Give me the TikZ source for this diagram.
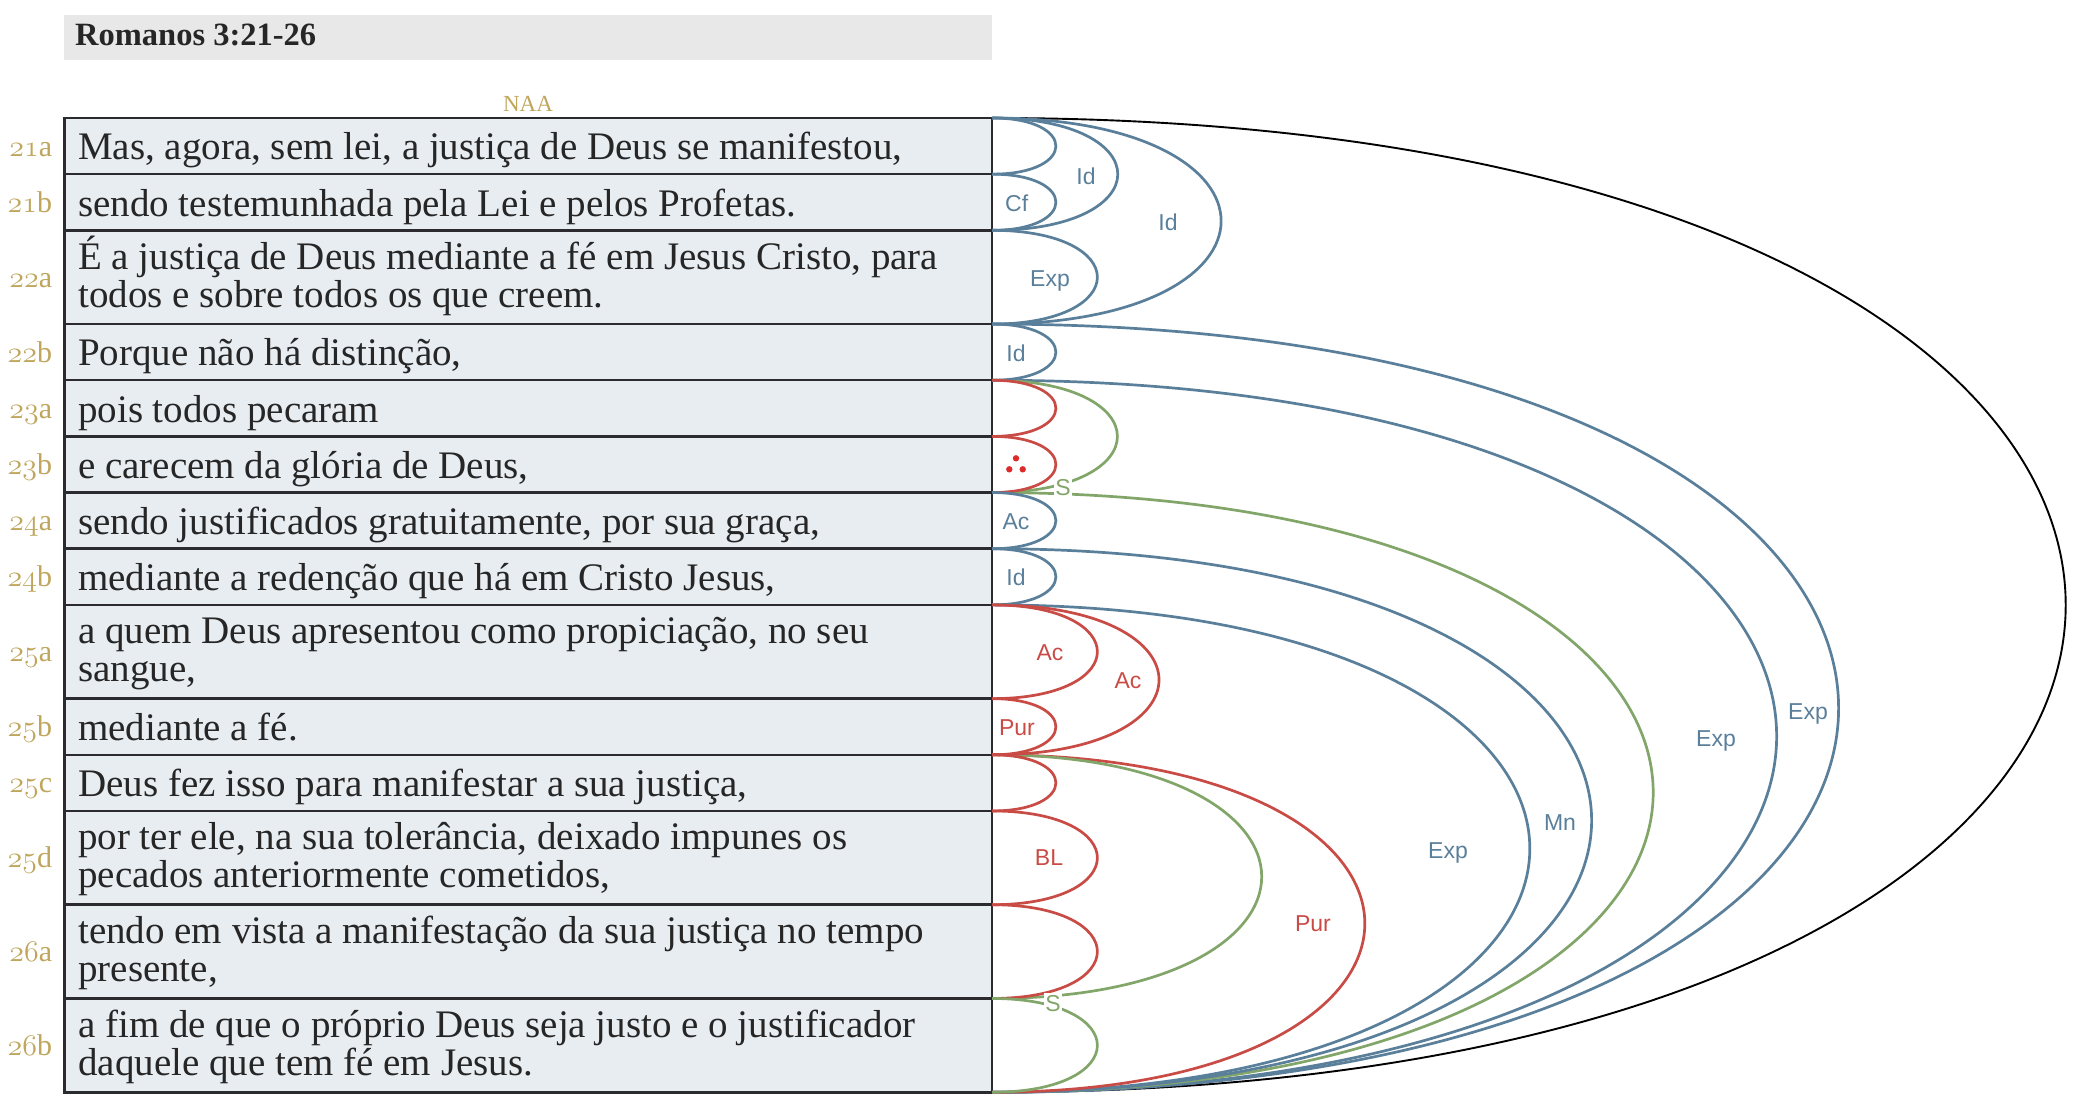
\RequirePackage{fix-cm}
\documentclass[tikz,border=0pt]{standalone}
\usepackage{fontspec}
\setmainfont{Liberation Serif}
\newfontfamily\lsans{Liberation Sans}
\usetikzlibrary{calc}
\newcommand\osn[1]{\ensuremath{\mathnormal{#1}}}
\definecolor{arcblue}{HTML}{5A7F9A}
\definecolor{arcred}{HTML}{C94B45}
\definecolor{arcgreen}{HTML}{82A66A}
\definecolor{rowfill}{HTML}{E8EDF1}
\definecolor{rowline}{HTML}{2B2B2F}
\definecolor{gold}{HTML}{BFA65C}
\definecolor{titlefill}{HTML}{E8E8E8}
\definecolor{txt}{HTML}{262626}
\definecolor{infred}{HTML}{DD2A2A}
\newcommand\relarc[4]{\draw[arcline=#1] (#2) .. controls +(#4,0) and +(#4,0) .. (#3);}
\begin{document}
\begin{tikzpicture}[x=1pt,y=-1pt,
  row/.style={draw=rowline, line width=2.5pt, fill=rowfill, anchor=north west,
    minimum width=927.5pt, inner sep=0pt, outer sep=0pt},
  clause/.style={anchor=base west, inner sep=0pt, text=txt, font=\fontsize{39}{38}\selectfont},
  vnum/.style={anchor=base east, inner sep=0pt, text=gold, font=\fontsize{30}{30}\selectfont},
  rel/.style={text=#1, font=\lsans\fontsize{23}{23}\selectfont, inner sep=0pt,
    text height=16.5pt, text depth=0pt},
  ser/.style={rel=arcgreen, fill=white, inner sep=1.5pt},
  arcline/.style={line width=2.7pt, draw=#1},
  rootarc/.style={line width=1.9pt, draw=black}]
\useasboundingbox (0,0) rectangle (2080,1102);

% title
\node[fill=titlefill, anchor=north west, minimum width=928pt, minimum height=45pt,
  inner sep=0pt, outer sep=0pt] (titlebox) at (64,15) {};
\node[anchor=base west, inner sep=0pt, text=txt, font=\bfseries\fontsize{32.5}{32}\selectfont] (title) at (75,45.5) {Romanos 3:21-26};
\node[anchor=base, inner sep=0pt, text=gold, font=\fontsize{23}{23}\selectfont] (naa) at (528,112) {NAA};

% rows
\node[row, minimum height=56.16pt] (r21a) at (64.5,118) {};
\node[row, minimum height=56.16pt] (r21b) at (r21a.south west) {};
\node[row, minimum height=93.76pt] (r22a) at (r21b.south west) {};
\node[row, minimum height=56.16pt] (r22b) at (r22a.south west) {};
\node[row, minimum height=56.16pt] (r23a) at (r22b.south west) {};
\node[row, minimum height=56.16pt] (r23b) at (r23a.south west) {};
\node[row, minimum height=56.16pt] (r24a) at (r23b.south west) {};
\node[row, minimum height=56.16pt] (r24b) at (r24a.south west) {};
\node[row, minimum height=93.76pt] (r25a) at (r24b.south west) {};
\node[row, minimum height=56.16pt] (r25b) at (r25a.south west) {};
\node[row, minimum height=56.16pt] (r25c) at (r25b.south west) {};
\node[row, minimum height=93.76pt] (r25d) at (r25c.south west) {};
\node[row, minimum height=93.76pt] (r26a) at (r25d.south west) {};
\node[row, minimum height=93.76pt] (r26b) at (r26a.south west) {};

% verse numbers
\foreach \r/\a/\b in {r21a/21/a,r21b/21/b,r22a/22/a,r22b/22/b,r23a/23/a,r23b/23/b,r24a/24/a,r24b/24/b,r25a/25/a,r25b/25/b,r25c/25/c,r25d/25/d,r26a/26/a,r26b/26/b}
  {\node[vnum] (v\r) at ($(\r.west)+(-12.2,10)$) {\osn{\a}\b};}

% clauses
\node[clause] (t21a) at ($(r21a.west)+(13.5,13.8)$) {Mas, agora, sem lei, a justiça de Deus se manifestou,};
\node[clause] (t21b) at ($(r21b.west)+(13.5,13.8)$) {sendo testemunhada pela Lei e pelos Profetas.};
\node[clause] (t22a1) at ($(r22a.west)+(13.5,-8)$) {É a justiça de Deus mediante a fé em Jesus Cristo, para};
\node[clause] (t22a2) at ($(r22a.west)+(13.5,30)$) {todos e sobre todos os que creem.};
\node[clause] (t22b) at ($(r22b.west)+(13.5,13.8)$) {Porque não há distinção,};
\node[clause] (t23a) at ($(r23a.west)+(13.5,13.8)$) {pois todos pecaram};
\node[clause] (t23b) at ($(r23b.west)+(13.5,13.8)$) {e carecem da glória de Deus,};
\node[clause] (t24a) at ($(r24a.west)+(13.5,13.8)$) {sendo justificados gratuitamente, por sua graça,};
\node[clause] (t24b) at ($(r24b.west)+(13.5,13.8)$) {mediante a redenção que há em Cristo Jesus,};
\node[clause] (t25a1) at ($(r25a.west)+(13.5,-8)$) {a quem Deus apresentou como propiciação, no seu};
\node[clause] (t25a2) at ($(r25a.west)+(13.5,30)$) {sangue,};
\node[clause] (t25b) at ($(r25b.west)+(13.5,13.8)$) {mediante a fé.};
\node[clause] (t25c) at ($(r25c.west)+(13.5,13.8)$) {Deus fez isso para manifestar a sua justiça,};
\node[clause] (t25d1) at ($(r25d.west)+(13.5,-8)$) {por ter ele, na sua tolerância, deixado impunes os};
\node[clause] (t25d2) at ($(r25d.west)+(13.5,30)$) {pecados anteriormente cometidos,};
\node[clause] (t26a1) at ($(r26a.west)+(13.5,-8)$) {tendo em vista a manifestação da sua justiça no tempo};
\node[clause] (t26a2) at ($(r26a.west)+(13.5,30)$) {presente,};
\node[clause] (t26b1) at ($(r26b.west)+(13.5,-8)$) {a fim de que o próprio Deus seja justo e o justificador};
\node[clause] (t26b2) at ($(r26b.west)+(13.5,30)$) {daquele que tem fé em Jesus.};

% arcs, largest first
\draw[rootarc] (r21a.north east) .. controls +(1431.6,0) and +(1431.6,0) .. (r26b.south east);
\relarc{arcblue}{r22b.north east}{r26b.south east}{1128.8}
\relarc{arcblue}{r23a.north east}{r26b.south east}{1046.2}
\relarc{arcgreen}{r24a.north east}{r26b.south east}{881.6}
\relarc{arcblue}{r24b.north east}{r26b.south east}{799.5}
\relarc{arcblue}{r25a.north east}{r26b.south east}{717.1}
\relarc{arcred}{r25c.north east}{r26b.south east}{497.1}
\relarc{arcgreen}{r25c.north east}{r26a.south east}{359.6}
\relarc{arcred}{r25a.north east}{r25b.south east}{222.7}
\relarc{arcblue}{r21a.north east}{r22a.south east}{305.5}
\relarc{arcgreen}{r23a.north east}{r23b.south east}{167.2}
\relarc{arcblue}{r21a.north east}{r21b.south east}{167.7}
% leaves
\relarc{arcblue}{r21a.north east}{r21a.south east}{85.2}
\relarc{arcblue}{r21b.north east}{r21b.south east}{85.2}
\relarc{arcblue}{r22a.north east}{r22a.south east}{140.5}
\relarc{arcblue}{r22b.north east}{r22b.south east}{85.2}
\relarc{arcred}{r23a.north east}{r23a.south east}{85.2}
\relarc{arcred}{r23b.north east}{r23b.south east}{85.2}
\relarc{arcblue}{r24a.north east}{r24a.south east}{85.2}
\relarc{arcblue}{r24b.north east}{r24b.south east}{85.2}
\relarc{arcred}{r25a.north east}{r25a.south east}{140.5}
\relarc{arcred}{r25b.north east}{r25b.south east}{85.2}
\relarc{arcred}{r25c.north east}{r25c.south east}{85.2}
\relarc{arcred}{r25d.north east}{r25d.south east}{140.5}
\relarc{arcred}{r26a.north east}{r26a.south east}{140.5}
\relarc{arcgreen}{r26b.north east}{r26b.south east}{140.5}

% relation labels
\node[rel=arcblue] (lcf) at (1016.7,203) {Cf};
\node[rel=arcblue] (lid1) at (1086,176) {Id};
\node[rel=arcblue] (lexp1) at (1050,278) {Exp};
\node[rel=arcblue] (lid2) at (1168,222) {Id};
\node[rel=arcblue] (lid3) at (1016,353) {Id};
\node[rel=arcblue] (lac1) at (1016,521) {Ac};
\node[rel=arcblue] (lid4) at (1016,577) {Id};
\node[rel=arcred] (lac2) at (1050,652) {Ac};
\node[rel=arcred] (lac3) at (1128,680) {Ac};
\node[rel=arcred] (lpur1) at (1017,727) {Pur};
\node[rel=arcred] (lbl) at (1049,857) {BL};
\node[rel=arcred] (lpur2) at (1313,923) {Pur};
\node[rel=arcblue] (lexp2) at (1448,850) {Exp};
\node[rel=arcblue] (lmn) at (1560,822) {Mn};
\node[rel=arcblue] (lexp3) at (1716,738) {Exp};
\node[rel=arcblue] (lexp4) at (1808,711) {Exp};
\node[ser] (ls1) at (1063,487) {S};
\node[ser] (ls2) at (1053,1003) {S};
% inference mark
\fill[infred] (1016,458.3) circle[radius=3.2] (1009.3,469.3) circle[radius=3.2] (1022.7,469.3) circle[radius=3.2];
\end{tikzpicture}
\end{document}
